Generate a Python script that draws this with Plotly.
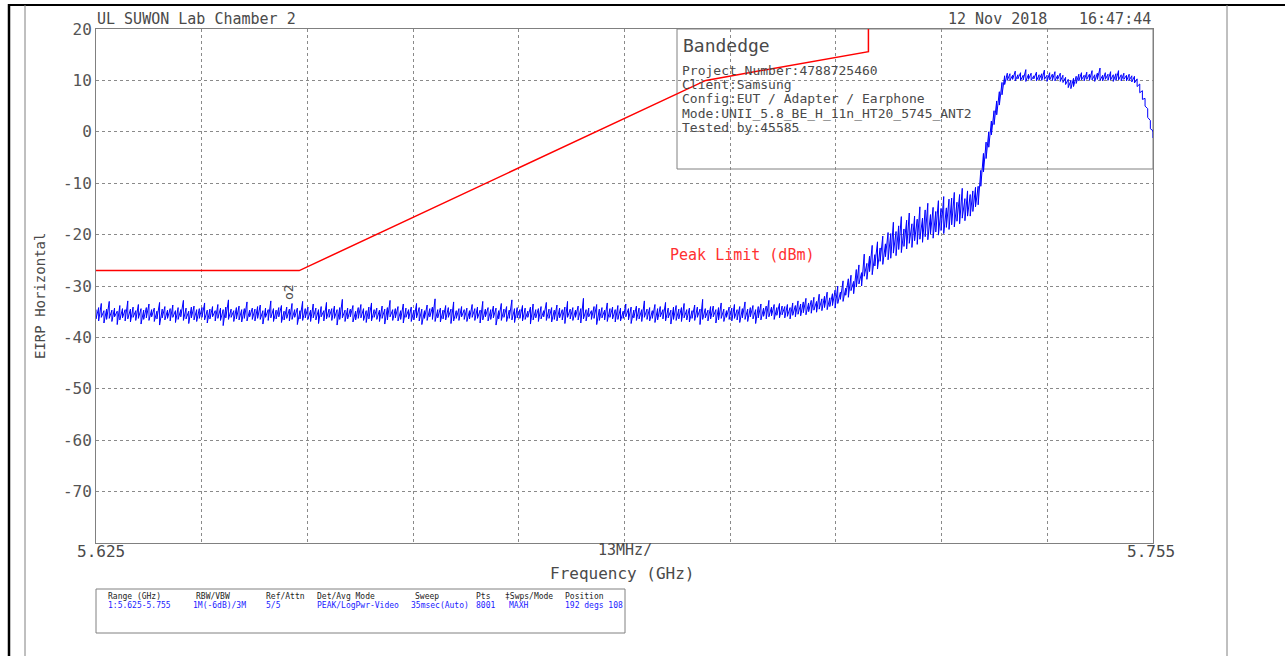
import numpy as np
import plotly.graph_objects as go

# ---------------- data ----------------
F_START = 5.625
F_STOP = 5.755
X_TICK_LABELS = ["5.625", "13MHz/", "5.755"]
Y_TICKS = [20, 10, 0, -10, -20, -30, -40, -50, -60, -70, -80]
Y_TICK_TEXT = ["20", "10", "0", "-10", "-20", "-30", "-40", "-50", "-60", "-70", ""]

LIMIT_F = [5.625, 5.650, 5.700, 5.720, 5.720]
LIMIT_DB = [-27.0, -27.0, 10.0, 15.6, 27.0]

# EIRP trace: per display bucket, the max and min of the
# peak-detected sweep (buckets evenly spaced over the span)
TRACE_HI = [
    -34.6, -34.2, -33.4, -34.8, -34.5, -33.0, -34.7, -34.3, -34.9, -33.8, -34.4, -34.6, -32.9, -34.5, -34.1, -34.8, -33.6, -34.4, -34.7, -34.2,
    -33.5, -34.6, -34.3, -34.9, -33.2, -34.5, -34.0, -34.7, -34.4, -33.7, -34.8, -34.2, -34.6, -32.8, -34.3, -34.9, -34.1, -33.9, -34.6, -34.4,
    -34.2, -33.3, -34.7, -34.5, -34.0, -34.8, -33.6, -34.3, -34.6, -34.1, -32.7, -34.5, -34.8, -34.2, -33.9, -34.6, -34.4, -33.1, -34.7, -34.3,
    -34.5, -34.0, -33.7, -34.8, -34.3, -34.6, -32.9, -34.4, -34.7, -34.2, -33.8, -34.9, -34.1, -34.5, -33.4, -34.6, -34.3, -34.8, -33.0, -34.4,
    -34.1, -34.7, -33.5, -34.3, -34.6, -34.0, -34.8, -33.2, -34.5, -34.4, -33.9, -34.6, -34.2, -32.6, -34.7, -34.3, -34.5, -33.8, -34.9, -34.2,
    -33.6, -34.4, -34.8, -34.1, -33.3, -34.6, -34.3, -34.7, -33.9, -34.5, -34.2, -32.8, -34.6, -34.4, -34.0, -34.8, -33.5, -34.3, -34.6, -34.1,
    -34.7, -33.4, -34.2, -34.5, -34.8, -33.7, -34.4, -34.1, -32.5, -34.6, -34.3, -34.7, -33.8, -34.2, -34.5, -33.1, -34.8, -34.4, -34.0, -34.6,
    -34.3, -34.8, -33.6, -34.4, -34.1, -34.7, -33.0, -34.5, -34.2, -34.6, -33.9, -34.3, -34.8, -33.4, -34.5, -34.0, -34.7, -32.7, -34.4, -34.2,
    -34.6, -33.8, -34.3, -34.9, -34.1, -33.5, -34.6, -34.4, -34.0, -34.8, -33.2, -34.5, -34.2, -34.7, -33.7, -34.3, -34.6, -34.1, -33.0, -34.5,
    -34.2, -34.7, -33.9, -34.4, -32.4, -34.6, -34.3, -34.8, -34.0, -33.6, -34.5, -34.2, -34.7, -33.3, -34.4, -34.1, -34.6, -33.8, -34.3, -34.9,
    -33.5, -34.4, -34.1, -34.7, -33.9, -34.3, -34.6, -32.9, -34.5, -34.2, -34.8, -33.6, -34.4, -34.0, -34.6, -33.2, -34.3, -34.7, -34.1, -33.8,
    -34.5, -34.2, -33.4, -34.6, -34.3, -34.8, -33.7, -34.1, -34.5, -32.6, -34.4, -34.7, -34.0, -33.9, -34.6, -34.2, -33.3, -34.5, -34.8, -34.1,
    -34.3, -33.6, -34.6, -34.0, -34.4, -33.1, -34.5, -34.2, -33.8, -34.6, -34.0, -33.5, -34.3, -33.9, -32.8, -34.1, -33.6, -34.2, -33.4, -33.9,
    -34.0, -33.6, -34.2, -33.3, -33.8, -32.9, -33.5, -33.1, -32.4, -33.3, -32.8, -32.2, -33.0, -31.6, -32.5, -32.0, -31.2, -32.3, -31.5, -30.8,
    -30.0, -31.2, -29.0, -30.4, -28.6, -27.9, -29.1, -26.8, -25.9, -27.4, -23.8, -25.6, -24.2, -22.1, -23.9, -21.4, -22.6, -20.3, -21.8, -19.6,
    -19.8, -17.6, -19.4, -18.3, -16.5, -18.9, -17.2, -15.8, -17.9, -16.4, -17.0, -14.6, -16.8, -15.2, -13.9, -16.1, -14.7, -15.5, -13.4, -14.9,
    -12.6, -14.8, -13.1, -12.9, -11.8, -13.7, -12.2, -11.0, -13.0, -11.5,
    -12.2, -11.5, -10.8, -10.6, -7.5, -4.2, -2.0, 0.0, 2.1, 4.1, 6.0, 7.8, 9.6, 10.9, 11.4,
    11.3, 11.0, 11.8, 11.1, 11.5, 11.0, 12.1, 11.2, 11.4, 10.9, 11.6, 11.1, 11.3, 12.0, 11.0, 11.5, 11.2, 11.7, 11.0, 11.4,
    11.0, 10.6, 10.2, 10.0, 10.4, 10.8, 11.2, 11.5, 11.0, 11.6, 11.2, 11.9, 11.1, 11.4, 12.4, 11.0, 11.5, 11.2, 11.7, 11.1,
    11.3, 11.9, 11.1, 11.4, 11.0, 11.2, 10.9, 10.8, 10.3, 9.3, 8.0, 6.5, 4.5, 2.2, 0.2,
]
TRACE_LO = [
    -36.4, -36.8, -36.1, -37.2, -36.5, -36.3, -36.9, -36.0, -37.5, -36.6, -36.2, -36.8, -36.4, -37.0, -36.1, -36.7, -36.3, -37.4, -36.5, -36.2,
    -36.7, -36.0, -36.9, -36.4, -37.6, -36.2, -36.6, -36.3, -36.8, -36.1, -37.1, -36.5, -36.0, -36.7, -36.4, -37.3, -36.2, -36.6, -36.9, -36.3,
    -36.1, -36.6, -37.2, -36.4, -36.0, -36.8, -36.3, -36.7, -37.7, -36.2, -36.5, -36.1, -36.9, -36.4, -36.6, -37.0, -36.3, -36.8, -36.0, -36.5,
    -36.8, -36.3, -36.5, -37.4, -36.1, -36.7, -36.2, -36.9, -36.4, -36.0, -37.1, -36.6, -36.3, -36.8, -36.5, -36.1, -37.5, -36.4, -36.7, -36.2,
    -36.5, -36.9, -36.2, -36.6, -37.3, -36.0, -36.8, -36.4, -36.1, -36.7, -36.3, -37.6, -36.5, -36.2, -36.9, -36.4, -36.0, -37.0, -36.6, -36.3,
    -36.2, -36.7, -37.1, -36.4, -36.8, -36.1, -36.5, -36.9, -36.3, -37.4, -36.6, -36.0, -36.7, -36.2, -36.8, -36.5, -37.2, -36.1, -36.4, -36.9,
    -36.6, -36.2, -36.8, -37.5, -36.3, -36.7, -36.0, -36.5, -36.9, -36.2, -37.0, -36.4, -36.6, -36.1, -37.3, -36.8, -36.3, -36.7, -36.0, -36.5,
    -36.9, -36.4, -36.1, -36.7, -36.3, -37.2, -36.6, -36.0, -36.8, -36.5, -36.2, -37.6, -36.4, -36.7, -36.1, -36.9, -36.3, -36.6, -37.1, -36.2,
    -36.3, -36.8, -36.5, -36.1, -37.4, -36.6, -36.2, -36.9, -36.4, -36.0, -36.7, -36.3, -37.0, -36.5, -36.8, -36.2, -36.6, -37.3, -36.1, -36.4,
    -36.7, -36.1, -36.6, -37.2, -36.4, -36.8, -36.0, -36.5, -36.3, -37.5, -36.7, -36.2, -36.6, -36.9, -36.1, -36.4, -37.0, -36.5, -36.8, -36.3,
    -36.0, -36.6, -37.3, -36.2, -36.7, -36.4, -36.9, -36.1, -36.5, -36.8, -36.3, -37.1, -36.6, -36.0, -36.4, -36.8, -36.2, -37.4, -36.5, -36.7,
    -36.4, -36.9, -36.2, -36.6, -37.0, -36.3, -36.7, -36.1, -37.5, -36.5, -36.2, -36.8, -36.4, -36.0, -37.2, -36.6, -36.3, -36.9, -36.1, -36.5,
    -36.8, -36.3, -36.6, -37.1, -36.2, -36.5, -36.9, -36.0, -36.4, -37.3, -36.2, -36.6, -35.9, -36.4, -36.0, -35.8, -36.5, -35.7, -36.2, -35.6,
    -36.2, -35.9, -36.4, -35.7, -36.0, -35.5, -35.8, -35.2, -35.6, -35.0, -35.3, -34.7, -35.1, -34.5, -34.8, -34.2, -34.6, -34.0, -33.8, -34.3,
    -33.4, -32.6, -33.0, -31.8, -32.2, -30.9, -31.5, -30.2, -29.6, -30.0, -28.1, -28.7, -27.2, -27.8, -26.1, -26.7, -25.2, -25.8, -24.3, -24.9,
    -24.6, -23.6, -24.1, -22.9, -23.5, -22.3, -22.8, -21.7, -22.5, -21.2, -21.9, -20.9, -21.5, -20.4, -21.0, -19.9, -20.7, -19.5, -20.1, -19.2,
    -19.8, -18.6, -19.0, -18.1, -18.5, -17.4, -17.9, -16.8, -17.3, -16.4,
    -16.4, -15.5, -14.6, -14.2, -10.6, -7.8, -5.2, -3.0, -0.6, 1.4, 3.3, 5.2, 7.2, 9.2, 10.0,
    10.0, 10.2, 9.9, 10.3, 10.0, 10.1, 9.8, 10.2, 10.0, 10.3, 9.9, 10.1, 10.0, 10.2, 9.8, 10.1, 10.0, 9.9, 10.2, 9.8,
    9.6, 9.2, 8.6, 8.4, 8.8, 9.4, 9.9, 10.1, 9.9, 10.2, 10.0, 10.1, 9.8, 10.2, 10.0, 9.9, 10.2, 10.0, 10.1, 9.8,
    10.0, 10.1, 9.9, 10.2, 9.9, 10.0, 9.7, 9.5, 8.8, 7.6, 6.3, 5.0, 2.8, 0.6, -1.2,
]

INFO_TITLE = "Bandedge"
INFO_LINES = [
    "Project Number:4788725460",
    "Client:Samsung",
    "Config:EUT / Adapter / Earphone",
    "Mode:UNII_5.8_BE_H_11n_HT20_5745_ANT2",
    "Tested by:45585",
]
TABLE_HEADERS = ["Range (GHz)", "RBW/VBW", "Ref/Attn", "Det/Avg Mode", "Sweep", "Pts", "\u2021Swps/Mode", "Position"]
TABLE_VALUES = ["1:5.625-5.755", "1M(-6dB)/3M", "5/5", "PEAK/LogPwr-Video", "35msec(Auto)", "8001", "MAXH", "192 degs 108"]

# ---------------- layout geometry (pixels) ----------------
W, H = 1285, 656
PL, PR, PT, PB = 96, 1153, 29, 543
pw, ph = PR - PL, PB - PT


def px(x):
    return (x - PL) / pw


def py(y):
    return (PB - y) / ph


n = min(len(TRACE_HI), len(TRACE_LO))
freqs = np.linspace(F_START, F_STOP, n)
trace_x = np.repeat(freqs, 2)
trace_y = np.column_stack([TRACE_HI[:n], TRACE_LO[:n]]).ravel()

span = F_STOP - F_START
x_grid = [F_START + span * k / 10 for k in range(11)]

FONT = "DejaVu Sans Mono"
GRAY_TXT = "#4a4a4a"

fig = go.Figure()
fig.add_trace(go.Scatter(x=LIMIT_F, y=LIMIT_DB, mode="lines",
                         line=dict(color="#ff0000", width=1.5), hoverinfo="skip"))
fig.add_trace(go.Scatter(x=trace_x, y=trace_y, mode="lines",
                         line=dict(color="#0000ff", width=1), hoverinfo="skip"))

shapes = []
shapes.append(dict(type="rect", xref="paper", yref="paper", x0=px(677), x1=1.0, y0=py(169), y1=1.0,
                   line=dict(color="#808080", width=1), fillcolor="white", layer="between"))
shapes.append(dict(type="rect", xref="paper", yref="paper", x0=px(96), x1=px(625), y0=py(633), y1=py(589),
                   line=dict(color="#808080", width=1), fillcolor="rgba(0,0,0,0)"))
shapes.append(dict(type="line", xref="paper", yref="paper", x0=px(9), x1=px(9), y0=py(4), y1=py(660),
                   line=dict(color="black", width=2.5)))
shapes.append(dict(type="line", xref="paper", yref="paper", x0=px(8), x1=px(1290), y0=py(5), y1=py(5),
                   line=dict(color="black", width=2)))
shapes.append(dict(type="line", xref="paper", yref="paper", x0=px(25), x1=px(25), y0=py(5), y1=py(660),
                   line=dict(color="#808080", width=1)))
shapes.append(dict(type="line", xref="paper", yref="paper", x0=px(1227), x1=px(1227), y0=py(5), y1=py(660),
                   line=dict(color="#808080", width=1)))

ann = []


def text(x, y, s, size, color=GRAY_TXT, xa="left", ya="middle", angle=0):
    ann.append(dict(x=x, y=y, xref="paper", yref="paper", text=s, showarrow=False, xanchor=xa, yanchor=ya,
                    textangle=angle, font=dict(family=FONT, size=size, color=color)))


text(px(95), py(19), "UL SUWON Lab Chamber 2", 15)
text(px(1049), py(19), "12 Nov 2018", 15, xa="right")
text(px(1153), py(19), "16:47:44", 15, xa="right")
text(px(101), py(551), X_TICK_LABELS[0], 16, xa="center")
text(px(625), py(550), X_TICK_LABELS[1], 15, xa="center")
text(px(1151), py(551), X_TICK_LABELS[2], 16, xa="center")
text(px(622), py(573), "Frequency (GHz)", 16, xa="center")
text(px(40), py(296), "EIRP Horizontal", 14, xa="center", angle=-90)
text(px(681), py(45), INFO_TITLE, 18)
for i, line in enumerate(INFO_LINES):
    text(px(680), py(70 + i * 14.5), line, 13)
text(px(742), py(255), "Peak Limit (dBm)", 15, color="#ff3030", xa="center")
text(px(288), py(292), "o2", 13, xa="center", angle=-90)

col_x = [106, 194, 264, 315, 413, 474, 503, 563]
val_x = [106, 191, 264, 315, 409, 474, 507, 563]
for cx, s in zip(col_x, TABLE_HEADERS):
    text(px(cx), py(596), s, 8, color="#222222")
for cx, s in zip(val_x, TABLE_VALUES):
    text(px(cx), py(605), s, 8, color="#1a1aff")

fig.update_layout(
    width=W, height=H, autosize=False,
    margin=dict(l=PL, r=W - PR, t=PT, b=H - PB, pad=0),
    paper_bgcolor="white", plot_bgcolor="white",
    showlegend=False,
    shapes=shapes, annotations=ann,
    xaxis=dict(range=[F_START, F_STOP], tickvals=x_grid, showticklabels=False,
               showgrid=True, gridcolor="#8a8a8a", griddash="dot", gridwidth=1,
               zeroline=False, showline=True, linecolor="#808080", linewidth=1, mirror=True, ticks=""),
    yaxis=dict(range=[-80, 20], tickvals=Y_TICKS, ticktext=Y_TICK_TEXT,
               showgrid=True, gridcolor="#8a8a8a", griddash="dot", gridwidth=1,
               zeroline=False, showline=True, linecolor="#808080", linewidth=1, mirror=True, ticks="",
               tickfont=dict(family=FONT, size=16, color="#555555")),
)

fig.write_html("out.html", config={"displayModeBar": False},
               post_script="document.body.style.margin='0px';document.body.style.overflow='hidden';")
